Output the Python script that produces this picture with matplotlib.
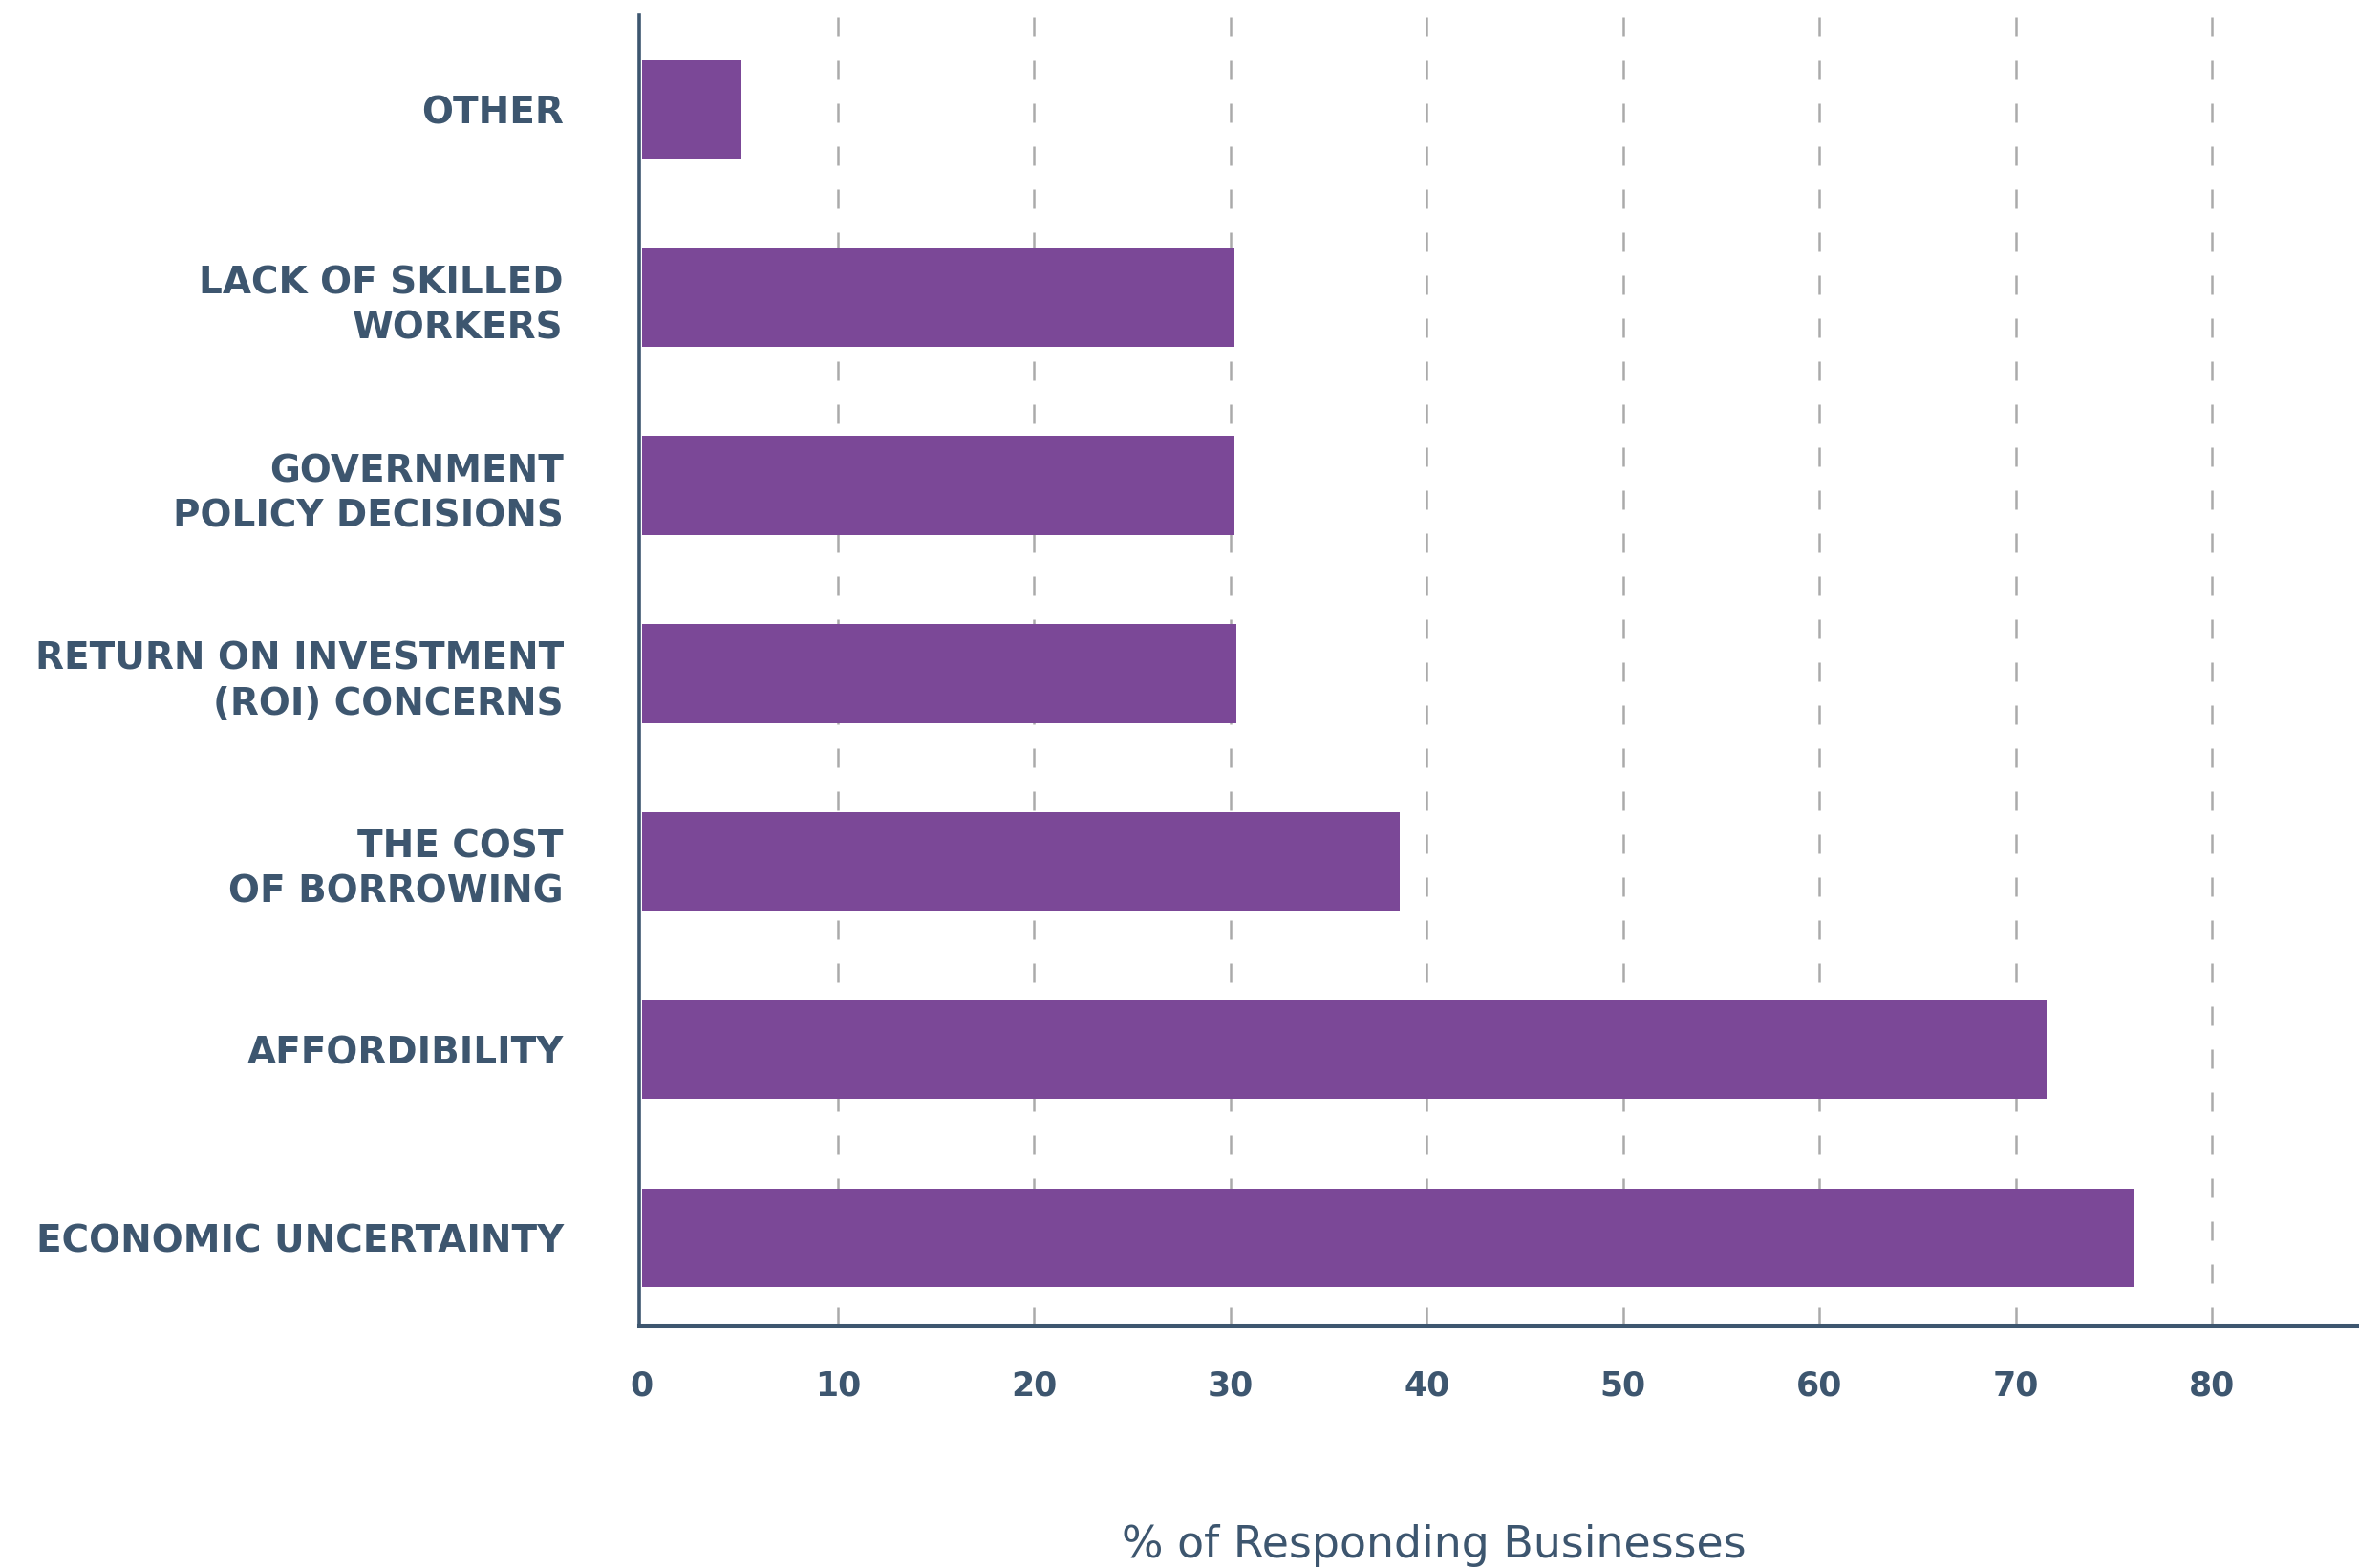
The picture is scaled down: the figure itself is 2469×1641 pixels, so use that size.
import matplotlib.pyplot as plt

# categories bottom to top
categories = ['ECONOMIC UNCERTAINTY', 'AFFORDIBILITY', 'THE COST\nOF BORROWING',
              'RETURN ON INVESTMENT\n(ROI) CONCERNS', 'GOVERNMENT\nPOLICY DECISIONS',
              'LACK OF SKILLED\nWORKERS', 'OTHER']
values = [76.0, 71.6, 38.6, 30.3, 30.2, 30.2, 5.1]
x_ticks = [0, 10, 20, 30, 40, 50, 60, 70, 80]

purple = '#7b4897'
navy = '#3d566f'

fig = plt.figure(figsize=(24.69, 16.41), dpi=100)
ax = fig.add_axes([669 / 2469, 1 - 1388 / 1641, 1 - 669 / 2469, (1388 - 16) / 1641])

ypos = range(len(categories))
ax.barh(ypos, values, height=0.525, color=purple, zorder=3)

ax.set_xlim(-0.13, 87.5)
ax.set_ylim(-0.47, 6.5)

ax.set_xticks(x_ticks)
ax.set_xticklabels([str(t) for t in x_ticks], fontsize=25, fontweight='bold',
                   color=navy, family='DejaVu Sans')
ax.set_yticks(list(ypos))
ax.set_yticklabels(categories, fontsize=28, fontweight='bold', color=navy,
                   family='DejaVu Sans', linespacing=1.3)
ax.tick_params(axis='x', length=0, pad=33)
ax.tick_params(axis='y', length=0, pad=57)

# dashed vertical grid
for t in x_ticks[1:]:
    ax.axvline(t, color='#aaaaaa', lw=1.8, dashes=(8, 10), zorder=1)

for s in ['top', 'right']:
    ax.spines[s].set_visible(False)
ax.spines['left'].set_color(navy)
ax.spines['left'].set_linewidth(2.6)
ax.spines['bottom'].set_color(navy)
ax.spines['bottom'].set_linewidth(2.9)

fig.text(1501 / 2469, 1 - 1617 / 1641, '% of Responding Businesses', fontsize=33,
         color=navy, family='DejaVu Sans', ha='center', va='center')

fig.savefig('out.png', dpi=100)
